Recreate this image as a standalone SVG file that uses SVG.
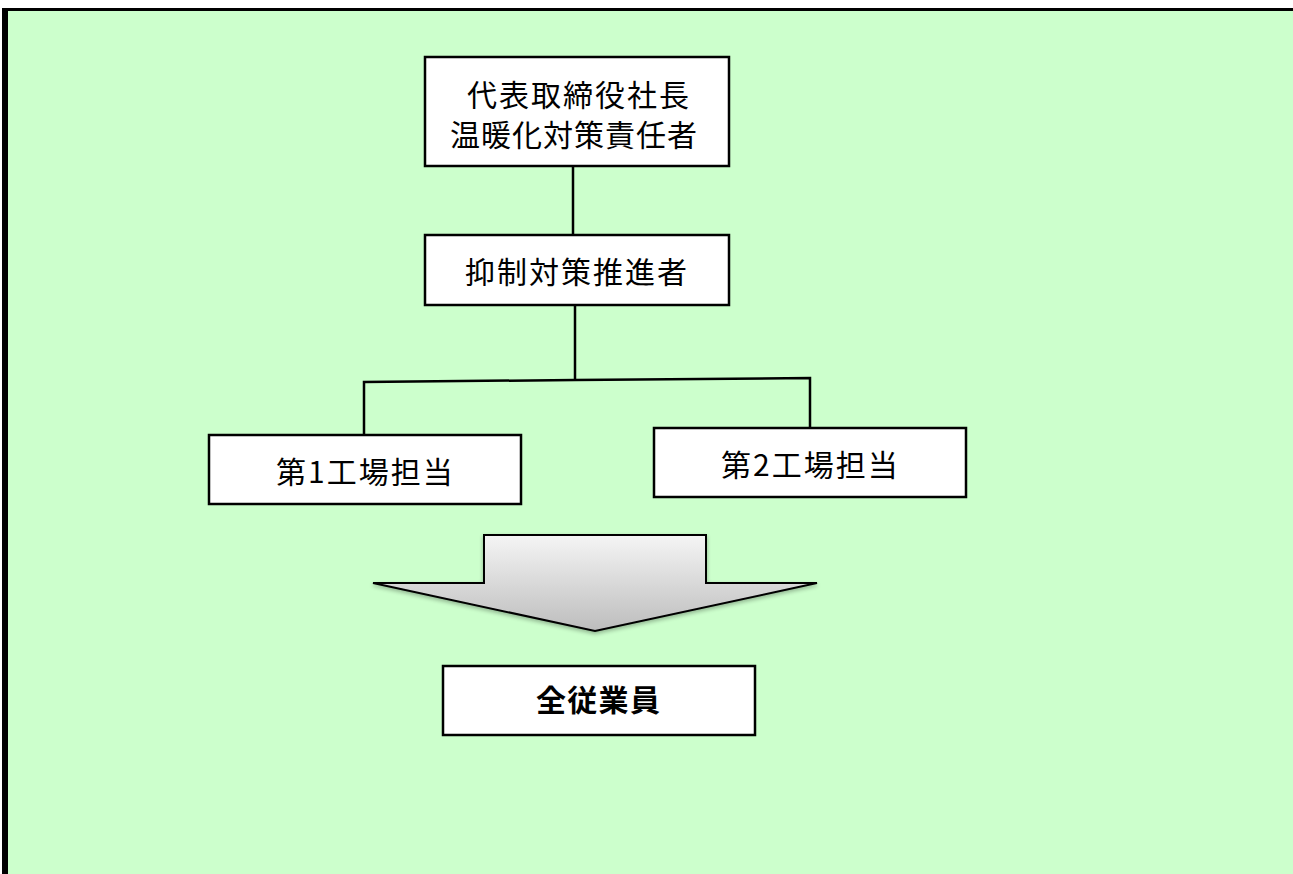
<svg xmlns="http://www.w3.org/2000/svg" width="1293" height="874" viewBox="0 0 1293 874">
<defs>
<style>
.box{fill:#ffffff;stroke:#000000;stroke-width:2.5}
.ln{fill:none;stroke:#000000;stroke-width:2.5}
.t{font-family:"Noto Sans CJK JP","Noto Sans",sans-serif;font-size:30px;letter-spacing:2px;fill:#000000}
.b{font-weight:bold;letter-spacing:1.3px}
</style>
<linearGradient id="ag" x1="0" y1="0" x2="0" y2="1">
<stop offset="0" stop-color="#f5f5f5"/>
<stop offset="1" stop-color="#bdbdbd"/>
</linearGradient>
<filter id="sh" x="-10%" y="-10%" width="120%" height="130%">
<feGaussianBlur in="SourceAlpha" stdDeviation="2"/>
<feOffset dx="0" dy="2" result="o"/>
<feComponentTransfer><feFuncA type="linear" slope="0.3"/></feComponentTransfer>
<feMerge><feMergeNode/><feMergeNode in="SourceGraphic"/></feMerge>
</filter>
</defs>
<rect x="0" y="0" width="1293" height="874" fill="#ffffff"/>
<rect x="2" y="8" width="1291" height="866" fill="#000000"/>
<rect x="8" y="11" width="1285" height="863" fill="#ccffcc"/>

<g id="connectors">
<line class="ln" x1="573" y1="166" x2="573" y2="235"/>
<line class="ln" x1="575" y1="305" x2="575" y2="380"/>
<polyline class="ln" points="364,435 364,382 575,380 810,378 810,428"/>
</g>

<g id="n-president">
<rect class="box" x="425" y="57" width="304" height="109"/>
<text class="t" x="467" y="106">代表取締役社長</text>
<text class="t" x="450" y="146" style="letter-spacing:1px">温暖化対策責任者</text>
</g>

<g id="n-promoter">
<rect class="box" x="425" y="235" width="304" height="70"/>
<text class="t" x="465" y="283">抑制対策推進者</text>
</g>

<g id="n-factory1">
<rect class="box" x="209" y="435" width="312" height="69"/>
<text class="t" x="276" y="483">第1工場担当</text>
</g>

<g id="n-factory2">
<rect class="box" x="654" y="428" width="312" height="69"/>
<text class="t" x="721" y="476">第2工場担当</text>
</g>

<g id="arrow">
<polygon points="484,535 706,535 706,583 817,583 595,631 373,583 484,583" fill="url(#ag)" stroke="#000000" stroke-width="2" stroke-linejoin="miter" filter="url(#sh)"/>
</g>

<g id="n-all">
<rect class="box" x="443" y="666" width="312" height="69"/>
<text class="t b" x="536" y="711">全従業員</text>
</g>
</svg>
